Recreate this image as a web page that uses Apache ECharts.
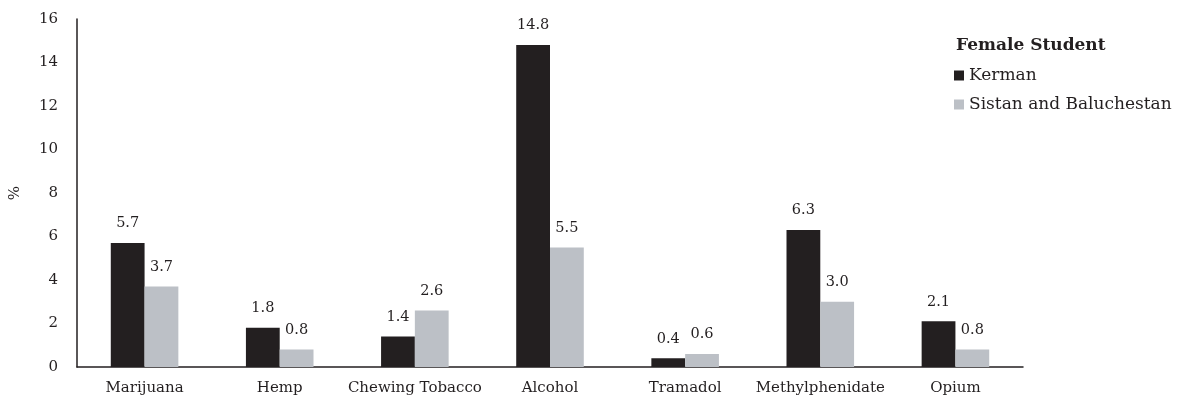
<!DOCTYPE html>
<html><head><meta charset="utf-8">
<script src="https://cdn.jsdelivr.net/npm/echarts@6/dist/echarts.min.js"></script>
<style>html,body{margin:0;padding:0;background:#fff}#c{width:1185px;height:399px}</style>
</head><body><div id="c"></div>
<script>
const categories = ["Marijuana","Hemp","Chewing Tobacco","Alcohol","Tramadol","Methylphenidate","Opium"];
const kerman = [5.7,1.8,1.4,14.8,0.4,6.3,2.1];
const sistan = [3.7,0.8,2.6,5.5,0.6,3.0,0.8];
const seriesNames = ["Kerman","Sistan and Baluchestan"];
const legendTitle = "Female Student";
const F = "DejaVu Serif";
const chart = echarts.init(document.getElementById('c'));
const lbl = {show:true,position:'top',distance:12,color:'#231f20',fontFamily:F,fontSize:14.5,formatter:p=>p.value.toFixed(1)};
chart.setOption({
  animation:false,
  textStyle:{fontFamily:F},
  title:{text:legendTitle,left:951,top:32,textStyle:{fontFamily:F,fontSize:17,fontWeight:'bold',color:'#231f20'}},
  legend:{orient:'vertical',left:949,top:62,itemWidth:10,itemHeight:10,itemGap:12,icon:'rect',
    textStyle:{fontFamily:F,fontSize:17,color:'#231f20'},data:seriesNames},
  grid:{left:77,right:162,top:19,bottom:32,containLabel:false},
  xAxis:{type:'category',data:categories,axisTick:{show:false},
    axisLine:{lineStyle:{color:'#231f20',width:1.5}},
    axisLabel:{color:'#231f20',fontFamily:F,fontSize:15,margin:14,interval:0}},
  yAxis:{type:'value',min:0,max:16,interval:2,name:'%',nameLocation:'middle',nameGap:54,nameRotate:90,
    nameTextStyle:{color:'#231f20',fontFamily:F,fontSize:15},
    axisLine:{show:true,lineStyle:{color:'#231f20',width:1.5}},axisTick:{show:false},splitLine:{show:false},
    axisLabel:{color:'#231f20',fontFamily:F,fontSize:15,margin:19}},
  series:[
    {name:seriesNames[0],type:'bar',data:kerman,barGap:'0%',barCategoryGap:'50%',itemStyle:{color:'#231f20'},label:lbl},
    {name:seriesNames[1],type:'bar',data:sistan,itemStyle:{color:'#bcc0c6'},label:lbl}
  ]
});
</script></body></html>
